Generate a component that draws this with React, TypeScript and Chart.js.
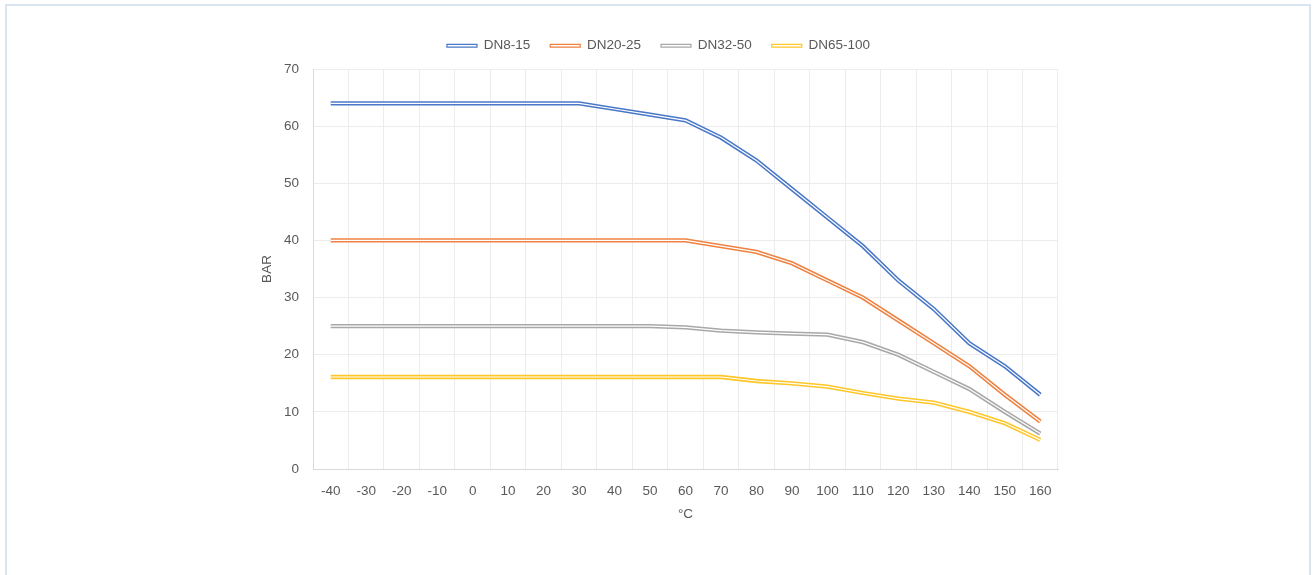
import React, { useEffect, useRef } from "react";
import { Chart, registerables } from "chart.js";

Chart.register(...registerables);

const categories = ["-40", "-30", "-20", "-10", "0", "10", "20", "30", "40", "50", "60", "70", "80", "90", "100", "110", "120", "130", "140", "150", "160"];
const dn8_15 = [64, 64, 64, 64, 64, 64, 64, 64, 63, 62, 61, 58, 54, 49, 44, 39, 33, 28, 22, 18, 13];
const dn20_25 = [40, 40, 40, 40, 40, 40, 40, 40, 40, 40, 40, 39, 38, 36, 33, 30, 26, 22, 18, 13, 8.3];
const dn32_50 = [25, 25, 25, 25, 25, 25, 25, 25, 25, 25, 24.8, 24.2, 23.9, 23.7, 23.5, 22.2, 20, 17, 14, 10, 6.2];
const dn65_100 = [16.1, 16.1, 16.1, 16.1, 16.1, 16.1, 16.1, 16.1, 16.1, 16.1, 16.1, 16.1, 15.4, 15.0, 14.4, 13.3, 12.3, 11.6, 10, 8, 5.1];

const seriesNames = ["DN8-15", "DN20-25", "DN32-50", "DN65-100"];
const seriesData = [dn8_15, dn20_25, dn32_50, dn65_100];
const seriesColors = ["#4a78c8", "#EE8240", "#A8A8A8", "#FFC629"];

const yTicksMin = 0;
const yTicksMax = 70;
const yStep = 10;

const TEXT = "#595959";
const FONT = "'Liberation Sans', Arial, sans-serif";

export default function App() {
  const ref = useRef<HTMLCanvasElement | null>(null);

  useEffect(() => {
    if (!ref.current) return;
    const colored = seriesData.map((d, i) => ({
      label: seriesNames[i],
      data: d,
      borderColor: seriesColors[i],
      backgroundColor: seriesColors[i],
      borderWidth: 4.3,
      pointRadius: 0,
      tension: 0,
      order: 2,
    }));
    const overlays = seriesData.map((d, i) => ({
      label: seriesNames[i] + "_inner",
      data: d,
      borderColor: "#ffffff",
      backgroundColor: "#ffffff",
      borderWidth: 1.2,
      pointRadius: 0,
      tension: 0,
      order: 1,
    }));

    const legendPatch = {
      id: "legendPatch",
      beforeInit(chart: any) {
        const lg = chart.legend;
        if (lg && !lg._patched) {
          const orig = lg.fit;
          lg.fit = function () {
            orig.call(this);
            this.height += 6.5;
          };
          lg._patched = true;
        }
      },
    };

    const chart = new Chart(ref.current, {
      type: "line",
      data: { labels: categories, datasets: [...colored, ...overlays] as any },
      plugins: [legendPatch as any],
      options: {
        animation: false,
        responsive: true,
        maintainAspectRatio: false,
        layout: { padding: { left: 259, right: 257, top: 19, bottom: 53 } },
        plugins: {
          tooltip: { enabled: false },
          legend: {
            position: "top",
            labels: {
              boxWidth: 30,
              boxHeight: 2.6,
              padding: 20,
              color: TEXT,
              font: { family: FONT, size: 13.5 },
              generateLabels: () =>
                seriesNames.map((n, i) => ({
                  text: n,
                  fillStyle: "#ffffff",
                  strokeStyle: seriesColors[i],
                  lineWidth: 1.2,
                  hidden: false,
                  datasetIndex: i,
                  fontColor: TEXT,
                })) as any,
            },
          },
        },
        scales: {
          x: {
            offset: true,
            grid: { offset: true, color: "#ececec", drawTicks: false, lineWidth: 1 },
            border: { color: "#d9d9d9" },
            ticks: { color: TEXT, font: { family: FONT, size: 13.5 }, padding: 14, maxRotation: 0, autoSkip: false },
            title: { display: true, text: "°C", color: TEXT, font: { family: FONT, size: 13.5 }, padding: 0 },
            afterFit: (s: any) => {
              s.height = 53;
            },
          },
          y: {
            min: yTicksMin,
            max: yTicksMax,
            grid: { color: "#ececec", drawTicks: false },
            border: { color: "#d9d9d9" },
            ticks: { stepSize: yStep, color: TEXT, font: { family: FONT, size: 13.5 }, padding: 14 },
            title: { display: true, text: "BAR", color: TEXT, font: { family: FONT, size: 13.5 }, padding: 0 },
            afterFit: (s: any) => {
              s.width = 54;
            },
          },
        },
      },
    });
    return () => chart.destroy();
  }, []);

  return (
    <div style={{ position: "fixed", left: 0, top: 0, width: 1315, height: 575, background: "#fff", overflow: "hidden" }}>
      <div
        style={{
          position: "absolute",
          left: 5,
          top: 4,
          width: 1302,
          height: 600,
          border: "2px solid #dae5f1",
        }}
      />
      <div style={{ position: "absolute", left: 0, top: 0, width: 1315, height: 575 }}>
        <canvas ref={ref} />
      </div>
    </div>
  );
}
